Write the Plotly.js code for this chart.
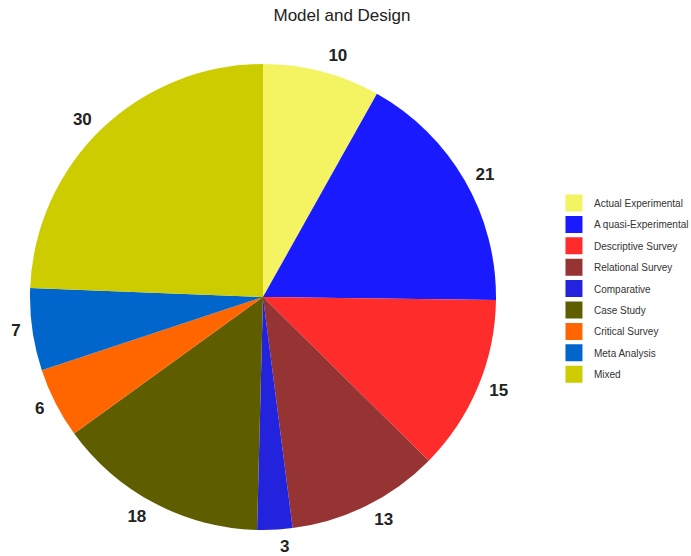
<!DOCTYPE html>
<html><head><meta charset="utf-8">
<script src="https://cdn.plot.ly/plotly-3.0.1.min.js"></script>
<style>body{margin:0;padding:0;background:#fff}</style>
</head><body>
<div id="chart" style="width:691px;height:556px"></div>
<script>
const categories = ["Actual Experimental","A quasi-Experimental","Descriptive Survey","Relational Survey","Comparative","Case Study","Critical Survey","Meta Analysis","Mixed"];
const values = [10,21,15,13,3,18,6,7,30];
const colors = ["#f4f462","#1a1aff","#ff2c2c","#963333","#2323dd","#5e5e00","#ff6600","#0066cc","#cccc00"];

const W = 691, H = 556, CX = 263, CY = 297, R = 233, RL = 240;
function dom(r) {
  return {x: [(CX - r) / W, (CX + r) / W], y: [(H - CY - r) / H, (H - CY + r) / H]};
}
const fontFam = 'Liberation Sans, Arial, sans-serif';

// legend-only pies (hidden under the main pie), one per category
const legendTraces = categories.map((c, i) => ({
  type: 'pie',
  labels: [c],
  values: [values[i]],
  marker: {colors: [colors[i]], line: {color: [colors[i]], width: 5}},
  textinfo: 'none',
  domain: dom(1),
  legendgroup: 'g' + i,
  showlegend: true,
  hoverinfo: 'skip'
}));

const mainPie = {
  type: 'pie',
  labels: categories,
  values: values,
  sort: false,
  direction: 'clockwise',
  rotation: 0,
  marker: {colors: colors, line: {width: 0}},
  textinfo: 'none',
  domain: dom(R),
  showlegend: false,
  hoverinfo: 'label+value'
};

const labelPie = {
  type: 'pie',
  labels: categories,
  values: values,
  sort: false,
  direction: 'clockwise',
  rotation: 0,
  marker: {colors: categories.map(() => 'rgba(0,0,0,0)'), line: {width: 0}},
  textinfo: 'value',
  textposition: 'outside',
  outsidetextfont: {family: fontFam, size: 17, color: '#222', weight: 'bold'},
  domain: dom(RL),
  showlegend: false,
  hoverinfo: 'skip'
};

Plotly.newPlot('chart', legendTraces.concat([mainPie, labelPie]), {
  width: W, height: H,
  margin: {l: 0, r: 0, t: 0, b: 0, autoexpand: false},
  title: {text: 'Model and Design', x: 342 / W, xanchor: 'center', y: 1 - 15 / H, yanchor: 'middle', yref: 'paper', font: {family: fontFam, size: 17, color: '#222'}},
  showlegend: true,
  legend: {x: 0.8017, y: 1 - 289 / H, yanchor: 'middle', xanchor: 'left', traceorder: 'grouped', tracegroupgap: 2.4,
           font: {family: fontFam, size: 10, color: '#333'}},
  paper_bgcolor: '#fff'
}, {displayModeBar: false});
</script>
</body></html>
